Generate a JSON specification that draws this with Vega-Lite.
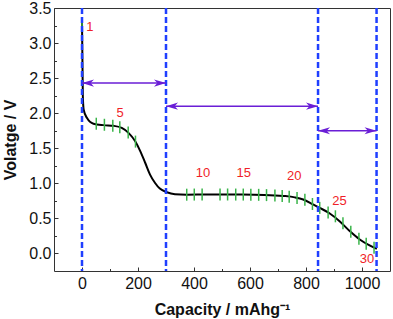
{
  "$schema": "https://vega.github.io/schema/vega-lite/v6.json",
  "autosize": "none",
  "padding": {"left": 54, "top": 8, "right": 3, "bottom": 48},
  "width": 336,
  "height": 263,
  "background": "white",
  "config": {
    "view": {"stroke": "#333", "strokeWidth": 1},
    "font": "Liberation Sans",
    "axis": {"grid": false, "domain": false, "labelOverlap": false, "labelFont": "Liberation Sans", "titleFont": "Liberation Sans", "labelFontSize": 16, "titleFontSize": 16, "titleFontWeight": "bold", "labelColor": "#111", "titleColor": "#111", "tickColor": "#333", "tickWidth": 1}
  },
  "datasets": {
    "curve": [
      {"cap": 0, "v": 3.29}, {"cap": 3, "v": 2.24}, {"cap": 6, "v": 2.05}, {"cap": 18, "v": 1.93}, {"cap": 41, "v": 1.85},
      {"cap": 77, "v": 1.83}, {"cap": 113, "v": 1.82}, {"cap": 142, "v": 1.79}, {"cap": 166, "v": 1.72}, {"cap": 190, "v": 1.6},
      {"cap": 208, "v": 1.46}, {"cap": 226, "v": 1.29}, {"cap": 243, "v": 1.125}, {"cap": 261, "v": 1.005}, {"cap": 278, "v": 0.925},
      {"cap": 303, "v": 0.873}, {"cap": 332, "v": 0.845}, {"cap": 374, "v": 0.838}, {"cap": 450, "v": 0.842}, {"cap": 550, "v": 0.84},
      {"cap": 650, "v": 0.835}, {"cap": 720, "v": 0.82}, {"cap": 760, "v": 0.8}, {"cap": 790, "v": 0.77}, {"cap": 825, "v": 0.7},
      {"cap": 849, "v": 0.65}, {"cap": 885, "v": 0.57}, {"cap": 920, "v": 0.46}, {"cap": 956, "v": 0.32}, {"cap": 992, "v": 0.2},
      {"cap": 1027, "v": 0.115}, {"cap": 1053, "v": 0.067}
    ],
    "cycles": [
      {"cap": 0, "v": 3.26}, {"cap": 51, "v": 1.85}, {"cap": 80, "v": 1.835}, {"cap": 110, "v": 1.82}, {"cap": 135, "v": 1.8},
      {"cap": 165, "v": 1.725}, {"cap": 191, "v": 1.595}, {"cap": 374, "v": 0.838}, {"cap": 401, "v": 0.84}, {"cap": 429, "v": 0.84},
      {"cap": 493, "v": 0.841}, {"cap": 520, "v": 0.841}, {"cap": 549, "v": 0.84}, {"cap": 576, "v": 0.84}, {"cap": 603, "v": 0.838},
      {"cap": 631, "v": 0.836}, {"cap": 659, "v": 0.832}, {"cap": 689, "v": 0.826}, {"cap": 715, "v": 0.82}, {"cap": 740, "v": 0.81},
      {"cap": 768, "v": 0.79}, {"cap": 796, "v": 0.765}, {"cap": 823, "v": 0.705}, {"cap": 849, "v": 0.65}, {"cap": 879, "v": 0.585},
      {"cap": 905, "v": 0.53}, {"cap": 932, "v": 0.43}, {"cap": 960, "v": 0.31}, {"cap": 989, "v": 0.21}, {"cap": 1015, "v": 0.14},
      {"cap": 1043, "v": 0.08}
    ],
    "bounds": [{"cap": 0}, {"cap": 300}, {"cap": 843}, {"cap": 1052}],
    "spans": [
      {"from": 0, "to": 300, "v": 2.43},
      {"from": 300, "to": 843, "v": 2.1},
      {"from": 843, "to": 1052, "v": 1.75}
    ],
    "labels": [
      {"cap": 28, "v": 3.23, "t": "1"}, {"cap": 136, "v": 2.0, "t": "5"}, {"cap": 432, "v": 1.147, "t": "10"},
      {"cap": 578, "v": 1.147, "t": "15"}, {"cap": 758, "v": 1.1, "t": "20"}, {"cap": 920, "v": 0.75, "t": "25"},
      {"cap": 1018, "v": -0.08, "t": "30"}
    ]
  },
  "layer": [
    {
      "data": {"name": "curve"},
      "mark": {"type": "line", "color": "black", "strokeWidth": 2, "interpolate": "monotone"},
      "encoding": {
        "x": {"field": "cap", "type": "quantitative", "scale": {"domain": [-100, 1100], "nice": false, "zero": false},
          "axis": {"title": "Capacity / mAhg⁻¹", "values": [0, 100, 200, 300, 400, 500, 600, 700, 800, 900, 1000],
            "tickCount": 50, "labelOverlap": false,
            "labelExpr": "datum.value % 200 == 0 ? datum.value : ''",
            "tickSize": {"condition": {"test": "datum.value % 200 == 0", "value": -4}, "value": -2.5},
            "labelPadding": 8, "titlePadding": 9}},
        "y": {"field": "v", "type": "quantitative", "scale": {"domain": [-0.25, 3.5], "nice": false, "zero": false},
          "axis": {"title": "Volatge / V", "values": [0, 0.25, 0.5, 0.75, 1, 1.25, 1.5, 1.75, 2, 2.25, 2.5, 2.75, 3, 3.25, 3.5],
            "tickCount": 50, "labelOverlap": false, "labelFlush": false,
            "labelExpr": "abs(round(datum.value * 2) - datum.value * 2) < 0.001 ? format(datum.value, '.1f') : ''",
            "tickSize": {"condition": {"test": "abs(round(datum.value * 2) - datum.value * 2) < 0.001", "value": -4}, "value": -2.5},
            "labelPadding": 7, "titlePadding": 10}}
      }
    },
    {
      "data": {"name": "cycles"},
      "mark": {"type": "tick", "orient": "vertical", "color": "#3ab54a", "thickness": 1.5, "size": 12, "opacity": 1},
      "encoding": {
        "x": {"field": "cap", "type": "quantitative"},
        "y": {"field": "v", "type": "quantitative"}
      }
    },
    {
      "data": {"name": "bounds"},
      "mark": {"type": "rule", "color": "#1f3fff", "strokeWidth": 2.5, "strokeDash": [6, 3]},
      "encoding": {
        "x": {"field": "cap", "type": "quantitative"}
      }
    },
    {
      "data": {"name": "spans"},
      "mark": {"type": "rule", "color": "#6a1ed6", "strokeWidth": 1.5},
      "encoding": {
        "x": {"field": "from", "type": "quantitative"},
        "x2": {"field": "to"},
        "y": {"field": "v", "type": "quantitative"}
      }
    },
    {
      "data": {"name": "spans"},
      "mark": {"type": "point", "filled": true, "opacity": 1, "color": "#6a1ed6", "size": 576, "shape": "M0,0 L-1,-0.3 L-0.72,0 L-1,0.3 Z"},
      "encoding": {
        "x": {"field": "to", "type": "quantitative"},
        "y": {"field": "v", "type": "quantitative"}
      }
    },
    {
      "data": {"name": "spans"},
      "mark": {"type": "point", "filled": true, "opacity": 1, "color": "#6a1ed6", "size": 576, "shape": "M0,0 L1,-0.3 L0.72,0 L1,0.3 Z"},
      "encoding": {
        "x": {"field": "from", "type": "quantitative"},
        "y": {"field": "v", "type": "quantitative"}
      }
    },
    {
      "data": {"name": "labels"},
      "mark": {"type": "text", "color": "#f01e28", "fontSize": 13, "font": "Liberation Sans", "align": "center", "baseline": "middle"},
      "encoding": {
        "x": {"field": "cap", "type": "quantitative"},
        "y": {"field": "v", "type": "quantitative"},
        "text": {"field": "t"}
      }
    }
  ]
}
